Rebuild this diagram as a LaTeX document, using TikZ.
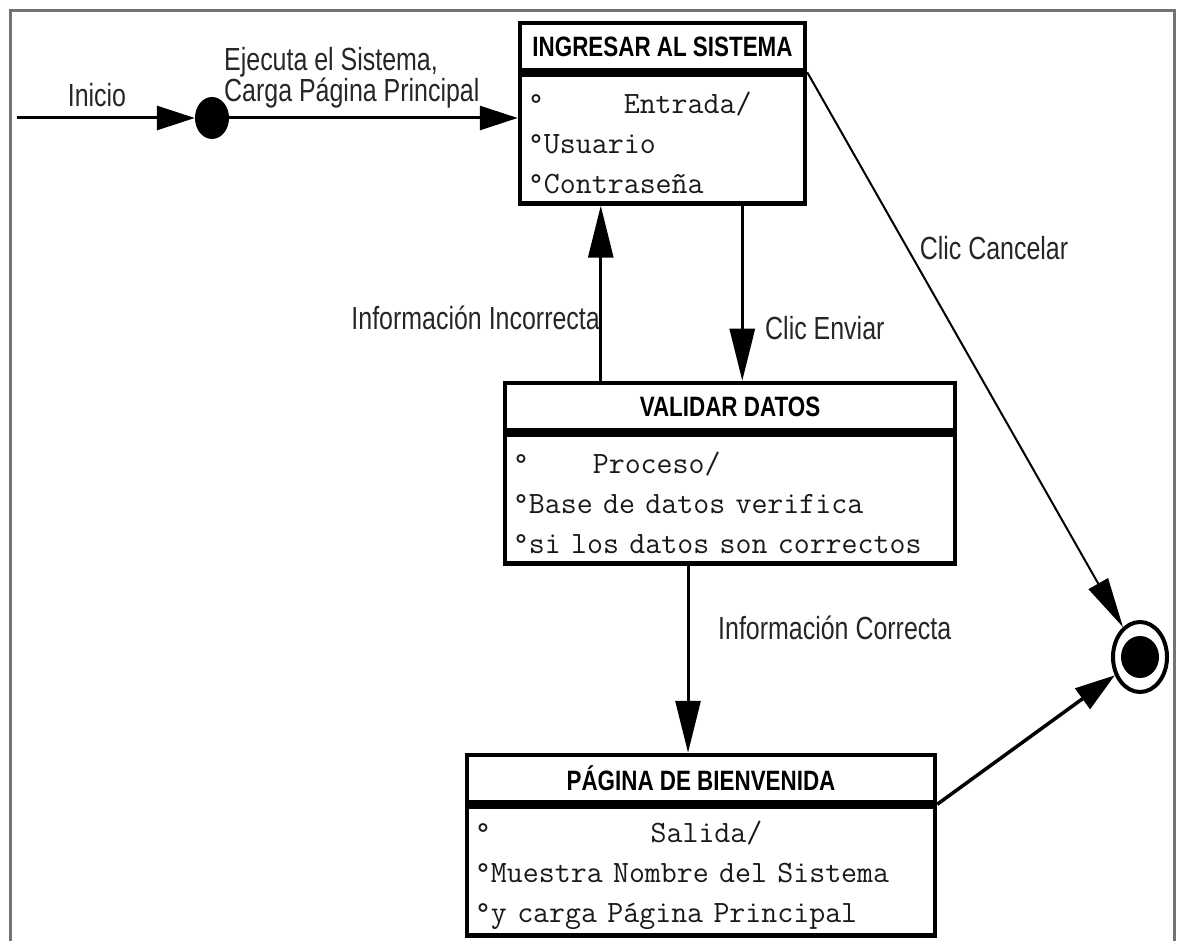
\documentclass[tikz,border=0pt]{standalone}
\usepackage{fontspec}
\newfontfamily\lblfont[FakeStretch=0.78]{Liberation Sans}
\newfontfamily\ttlfont[FakeStretch=0.8]{Liberation Sans}
\usetikzlibrary{arrows.meta,shapes.geometric}
\begin{document}
\begin{tikzpicture}[x=1pt,y=-1pt,
  lbl/.style={font=\lblfont\fontsize{32}{30}\selectfont,text=black!85,inner sep=0pt},
  sttitle/.style={draw,line width=4.5pt,minimum width=#1,minimum height=47pt,inner sep=0pt,
    font=\ttlfont\bfseries\fontsize{28}{30}\selectfont},
  stbody/.style={draw,line width=4.5pt,text width=#1,minimum height=129pt,inner xsep=8pt,inner ysep=0pt,
    align=left,font=\ttfamily\fontsize{31}{40}\selectfont,text=black!90,
    execute at begin node={\rule{0pt}{30pt}}},
  flow/.style={line width=3pt,-{Triangle[length=38pt,width=24pt]}},
  vflow/.style={line width=3pt,-{Triangle[length=52pt,width=25pt]}}]
\useasboundingbox (0,0) rectangle (1178,941);
\draw[black!55,line width=3pt] (10,941) -- (10,11) -- (1174,11) -- (1174,941);
\foreach \nm/\cx/\ty/\w/\title/\body in {
  ing/662.5/23/285/{INGRESAR AL SISTEMA}/{°\hphantom{00000}Entrada/\\°Usuario\\°Contraseña},
  val/730/383/450/{VALIDAR DATOS}/{°\hphantom{0000}Proceso/\\°Base de datos verifica\\°si los datos son correctos},
  bien/701/755/468/{PÁGINA DE BIENVENIDA}/{°\hphantom{0000000000}Salida/\\°Muestra Nombre del Sistema\\°y carga Página Principal}}{
\pgfmathsetmacro{\tw}{\w-16}
\node[sttitle=\w pt] (\nm-t) at (\cx,{\ty+23.5}) {\title};
\node[stbody=\tw pt,anchor=north] (\nm-b) at (\nm-t.south) {\body};
}
\node[fill=black,ellipse,minimum width=34pt,minimum height=42pt,inner sep=0pt] (init) at (212,118) {};
\node[draw,line width=4pt,ellipse,minimum width=54pt,minimum height=70pt,inner sep=0pt] (fin) at (1140,657) {};
\node[fill=black,ellipse,minimum width=38pt,minimum height=42pt,inner sep=0pt] (fin-in) at (fin) {};
\coordinate (start) at (17,118);
\draw[flow] (start) -- (init);
\draw[flow] (init) -- (init -| ing-b.west);
\draw[vflow] ([xshift=98pt]val-t.north west) -- ([xshift=98pt]val-t.north west |- ing-b.south);
\draw[vflow] ([xshift=-65pt]ing-b.south east) -- ([xshift=-65pt]ing-b.south east |- val-t.north);
\draw[vflow] ([xshift=-42pt]val-b.south) -- ([xshift=-42pt]val-b.south |- bien-t.north);
\draw[line width=2pt,-{Triangle[length=50pt,width=22pt]}] (ing-t.south east) -- (fin);
\draw[line width=3.5pt,-{Triangle[length=40pt,width=25pt]}] (bien-t.south east) -- (fin);
\node[lbl] (inicio) at (97,95) {Inicio};
\node[lbl,align=left,anchor=west] (ejecuta) at (224,78) {Ejecuta el Sistema,\\Carga Página Principal};
\node[lbl,anchor=east] (incorrecta) at (600,318) {Información Incorrecta};
\node[lbl,anchor=west] (enviar) at (765,328) {Clic Enviar};
\node[lbl,anchor=west] (correcta) at (718,628) {Información Correcta};
\node[lbl] (cancelar) at (994,248) {Clic Cancelar};
\end{tikzpicture}
\end{document}
